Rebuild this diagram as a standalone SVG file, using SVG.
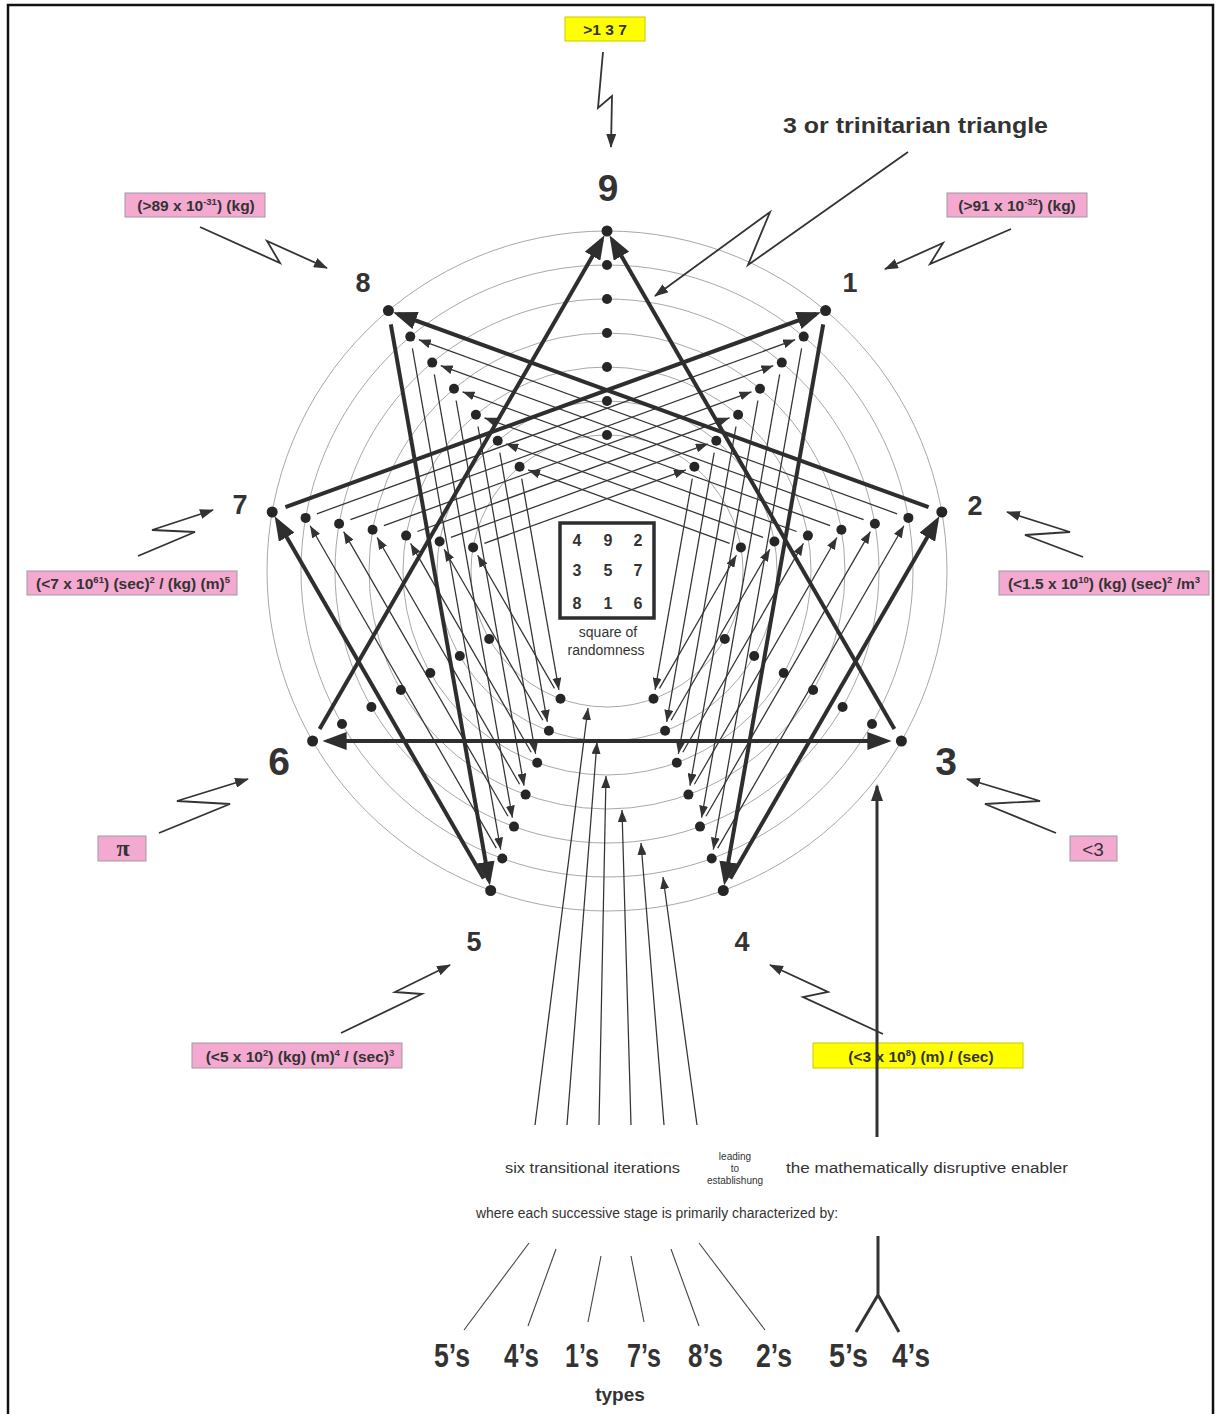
<svg xmlns="http://www.w3.org/2000/svg" width="1221" height="1414" viewBox="0 0 1221 1414">
<style>
.bg{fill:#fff}
.frame{fill:none;stroke:#111;stroke-width:2.5}
.ring{fill:none;stroke:#a8a8a8;stroke-width:1}
.dot{fill:#262626}
.thick{stroke:#2e2e2e;stroke-width:4;fill:none}
.thin{stroke:#333;stroke-width:1.25;fill:none;marker-end:url(#ah)}
.zig{stroke:#333;stroke-width:1.8;fill:none;marker-end:url(#ahz)}
.num{font-family:"Liberation Sans",Arial,sans-serif;font-weight:bold;fill:#333;text-anchor:middle}
.pink{fill:#f4a9d0;stroke:#a09aa0;stroke-width:1}
.yel{fill:#ffff00;stroke:#c9c900;stroke-width:1}
.bt{font-family:"Liberation Sans",Arial,sans-serif;font-weight:bold;font-size:15.5px;fill:#333;text-anchor:middle}
.sq{font-family:"Liberation Sans",Arial,sans-serif;font-size:16px;font-weight:bold;fill:#333;text-anchor:middle}
.cap{font-family:"Liberation Sans",Arial,sans-serif;font-size:14px;fill:#333;text-anchor:middle}
.txt{font-family:"Liberation Sans",Arial,sans-serif;font-size:15.5px;fill:#333}
.small{font-family:"Liberation Sans",Arial,sans-serif;font-size:10px;fill:#333;text-anchor:middle}
.type{font-family:"Liberation Sans",Arial,sans-serif;font-weight:bold;font-size:33px;fill:#333}
.ln{stroke:#444;stroke-width:1.1;fill:none}
</style>
<defs>
<marker id="ahb" markerUnits="userSpaceOnUse" viewBox="0 0 24 18" markerWidth="24" markerHeight="18" refX="19" refY="9" orient="auto-start-reverse"><path d="M0,0 L24,9 L0,18 z" fill="#2e2e2e"/></marker>
<marker id="ah" markerUnits="userSpaceOnUse" viewBox="0 0 12 9" markerWidth="12" markerHeight="9" refX="12" refY="4.5" orient="auto"><path d="M0,0 L12,4.5 L0,9 z" fill="#333"/></marker>
<marker id="ahz" markerUnits="userSpaceOnUse" viewBox="0 0 14 10" markerWidth="14" markerHeight="10" refX="13" refY="5" orient="auto"><path d="M0,0 L14,5 L0,10 z" fill="#333"/></marker>
<marker id="ahv" markerUnits="userSpaceOnUse" viewBox="0 0 17 12" markerWidth="17" markerHeight="12" refX="15" refY="6" orient="auto"><path d="M0,0 L17,6 L0,12 z" fill="#333"/></marker>
</defs>
<rect class="bg" x="0" y="0" width="1221" height="1414"/>
<rect class="frame" x="8" y="5" width="1205" height="1420"/>

<g id="rings">
<circle class="ring" cx="607" cy="571" r="340"/>
<circle class="ring" cx="607" cy="571" r="306"/>
<circle class="ring" cx="607" cy="571" r="272"/>
<circle class="ring" cx="607" cy="571" r="238"/>
<circle class="ring" cx="607" cy="571" r="204"/>
<circle class="ring" cx="607" cy="571" r="170"/>
<circle class="ring" cx="607" cy="571" r="136"/>
</g>

<g id="connectors">
<line class="thin" x1="801.6" y1="348.4" x2="713.3" y2="849.6"/>
<line class="thin" x1="779.7" y1="374.4" x2="701.6" y2="817.7"/>
<line class="thin" x1="757.9" y1="400.5" x2="690.0" y2="785.7"/>
<line class="thin" x1="736.0" y1="426.5" x2="678.4" y2="753.8"/>
<line class="thin" x1="714.2" y1="452.6" x2="666.7" y2="721.8"/>
<line class="thin" x1="692.3" y1="478.6" x2="655.1" y2="689.9"/>
<line class="thin" x1="717.7" y1="848.1" x2="903.9" y2="525.7"/>
<line class="thin" x1="706.0" y1="816.2" x2="870.4" y2="531.6"/>
<line class="thin" x1="694.4" y1="784.2" x2="836.9" y2="537.5"/>
<line class="thin" x1="682.8" y1="752.3" x2="803.4" y2="543.4"/>
<line class="thin" x1="671.1" y1="720.3" x2="769.9" y2="549.3"/>
<line class="thin" x1="659.5" y1="688.4" x2="736.4" y2="555.2"/>
<line class="thin" x1="897.1" y1="513.8" x2="418.8" y2="339.7"/>
<line class="thin" x1="863.6" y1="519.7" x2="440.7" y2="365.7"/>
<line class="thin" x1="830.1" y1="525.6" x2="462.5" y2="391.8"/>
<line class="thin" x1="796.6" y1="531.5" x2="484.4" y2="417.8"/>
<line class="thin" x1="763.1" y1="537.4" x2="506.2" y2="443.9"/>
<line class="thin" x1="729.6" y1="543.3" x2="528.1" y2="469.9"/>
<line class="thin" x1="412.4" y1="348.4" x2="500.7" y2="849.6"/>
<line class="thin" x1="434.3" y1="374.4" x2="512.4" y2="817.7"/>
<line class="thin" x1="456.1" y1="400.5" x2="524.0" y2="785.7"/>
<line class="thin" x1="478.0" y1="426.5" x2="535.6" y2="753.8"/>
<line class="thin" x1="499.8" y1="452.6" x2="547.3" y2="721.8"/>
<line class="thin" x1="521.7" y1="478.6" x2="558.9" y2="689.9"/>
<line class="thin" x1="496.3" y1="848.1" x2="310.1" y2="525.7"/>
<line class="thin" x1="508.0" y1="816.2" x2="343.6" y2="531.6"/>
<line class="thin" x1="519.6" y1="784.2" x2="377.1" y2="537.5"/>
<line class="thin" x1="531.2" y1="752.3" x2="410.6" y2="543.4"/>
<line class="thin" x1="542.9" y1="720.3" x2="444.1" y2="549.3"/>
<line class="thin" x1="554.5" y1="688.4" x2="477.6" y2="555.2"/>
<line class="thin" x1="316.9" y1="513.8" x2="795.2" y2="339.7"/>
<line class="thin" x1="350.4" y1="519.7" x2="773.3" y2="365.7"/>
<line class="thin" x1="383.9" y1="525.6" x2="751.5" y2="391.8"/>
<line class="thin" x1="417.4" y1="531.5" x2="729.6" y2="417.8"/>
<line class="thin" x1="450.9" y1="537.4" x2="707.8" y2="443.9"/>
<line class="thin" x1="484.4" y1="543.3" x2="685.9" y2="469.9"/>
<line class="thick" x1="285.4" y1="507.2" x2="816.2" y2="314.0" marker-end="url(#ahb)"/>
<line class="thick" x1="928.6" y1="507.2" x2="397.8" y2="314.0" marker-end="url(#ahb)"/>
<line class="thick" x1="390.8" y1="324.4" x2="489.0" y2="880.7" marker-end="url(#ahb)"/>
<line class="thick" x1="823.2" y1="324.4" x2="725.0" y2="880.7" marker-end="url(#ahb)"/>
<line class="thick" x1="483.7" y1="878.4" x2="277.2" y2="520.7" marker-end="url(#ahb)"/>
<line class="thick" x1="730.3" y1="878.4" x2="936.8" y2="520.7" marker-end="url(#ahb)"/>
<line class="thick" x1="319.6" y1="728.9" x2="602" y2="239.7" marker-end="url(#ahb)"/>
<line class="thick" x1="894.4" y1="728.9" x2="612" y2="239.7" marker-end="url(#ahb)"/>
<line class="thick" x1="327.6" y1="741" x2="886.4" y2="741" marker-start="url(#ahb)" marker-end="url(#ahb)"/>
<line class="thin" x1="535" y1="1125" x2="588" y2="708"/>
<line class="thin" x1="567" y1="1125" x2="597" y2="742"/>
<line class="thin" x1="599" y1="1125" x2="606" y2="776"/>
<line class="thin" x1="631" y1="1125" x2="622" y2="810"/>
<line class="thin" x1="664" y1="1125" x2="641" y2="843"/>
<line class="thin" x1="697" y1="1125" x2="663" y2="877"/>
<path class="zig" d="M603,52 L598,108 L612,96 L611,147"/>
<path class="zig" d="M908,152 L748,265 L770,212 L655,296"/>
<path class="zig" d="M200,227 L280,263 L267,241 L327,268"/>
<path class="zig" d="M1011,229 L930,264 L943,243 L885,269"/>
<path class="zig" d="M138,556 L195,532 L152,530 L213,510"/>
<path class="zig" d="M1083,557 L1025,535 L1070,532 L1007,512"/>
<path class="zig" d="M159,833 L230,804 L177,801 L248,779"/>
<path class="zig" d="M1056,833 L985,804 L1040,801 L967,779"/>
<path class="zig" d="M341,1033 L422,994 L395,992 L450,965"/>
<path class="zig" d="M883,1034 L803,997 L828,992 L770,965"/>
</g>

<g id="inner-points">
<circle class="dot" cx="607" cy="265" r="5"/><circle class="dot" cx="607" cy="299" r="5"/><circle class="dot" cx="607" cy="333" r="5"/><circle class="dot" cx="607" cy="367" r="5"/><circle class="dot" cx="607" cy="401" r="5"/><circle class="dot" cx="607" cy="435" r="5"/>
<circle class="dot" cx="803.7" cy="336.6" r="5"/><circle class="dot" cx="781.8" cy="362.6" r="5"/><circle class="dot" cx="760.0" cy="388.7" r="5"/><circle class="dot" cx="738.1" cy="414.7" r="5"/><circle class="dot" cx="716.3" cy="440.8" r="5"/><circle class="dot" cx="694.4" cy="466.8" r="5"/>
<circle class="dot" cx="908.4" cy="517.9" r="5"/><circle class="dot" cx="874.9" cy="523.8" r="5"/><circle class="dot" cx="841.4" cy="529.7" r="5"/><circle class="dot" cx="807.9" cy="535.6" r="5"/><circle class="dot" cx="774.4" cy="541.5" r="5"/><circle class="dot" cx="740.9" cy="547.4" r="5"/>
<circle class="dot" cx="872.0" cy="724" r="5"/><circle class="dot" cx="842.6" cy="707" r="5"/><circle class="dot" cx="813.1" cy="690" r="5"/><circle class="dot" cx="783.7" cy="673" r="5"/><circle class="dot" cx="754.2" cy="656" r="5"/><circle class="dot" cx="724.8" cy="639" r="5"/>
<circle class="dot" cx="711.7" cy="858.5" r="5"/><circle class="dot" cx="700.0" cy="826.6" r="5"/><circle class="dot" cx="688.4" cy="794.6" r="5"/><circle class="dot" cx="676.8" cy="762.7" r="5"/><circle class="dot" cx="665.1" cy="730.7" r="5"/><circle class="dot" cx="653.5" cy="698.8" r="5"/>
<circle class="dot" cx="502.3" cy="858.5" r="5"/><circle class="dot" cx="514.0" cy="826.6" r="5"/><circle class="dot" cx="525.6" cy="794.6" r="5"/><circle class="dot" cx="537.2" cy="762.7" r="5"/><circle class="dot" cx="548.9" cy="730.7" r="5"/><circle class="dot" cx="560.5" cy="698.8" r="5"/>
<circle class="dot" cx="342.0" cy="724" r="5"/><circle class="dot" cx="371.4" cy="707" r="5"/><circle class="dot" cx="400.9" cy="690" r="5"/><circle class="dot" cx="430.3" cy="673" r="5"/><circle class="dot" cx="459.8" cy="656" r="5"/><circle class="dot" cx="489.2" cy="639" r="5"/>
<circle class="dot" cx="305.6" cy="517.9" r="5"/><circle class="dot" cx="339.1" cy="523.8" r="5"/><circle class="dot" cx="372.6" cy="529.7" r="5"/><circle class="dot" cx="406.1" cy="535.6" r="5"/><circle class="dot" cx="439.6" cy="541.5" r="5"/><circle class="dot" cx="473.1" cy="547.4" r="5"/>
<circle class="dot" cx="410.3" cy="336.6" r="5"/><circle class="dot" cx="432.2" cy="362.6" r="5"/><circle class="dot" cx="454.0" cy="388.7" r="5"/><circle class="dot" cx="475.9" cy="414.7" r="5"/><circle class="dot" cx="497.7" cy="440.8" r="5"/><circle class="dot" cx="519.6" cy="466.8" r="5"/>
</g>

<g id="node-9"><circle class="dot" cx="607" cy="231" r="5.5"/><text class="num" x="608" y="201" font-size="37">9</text></g>
<g id="node-1"><circle class="dot" cx="825.6" cy="310.6" r="5.5"/><text class="num" x="850" y="292" font-size="27">1</text></g>
<g id="node-2"><circle class="dot" cx="941.8" cy="512" r="5.5"/><text class="num" x="975" y="515" font-size="27">2</text></g>
<g id="node-3"><circle class="dot" cx="901.4" cy="741" r="5.5"/><text class="num" x="946" y="775" font-size="39">3</text></g>
<g id="node-4"><circle class="dot" cx="723.3" cy="890.5" r="5.5"/><text class="num" x="742" y="951" font-size="27">4</text></g>
<g id="node-5"><circle class="dot" cx="490.7" cy="890.5" r="5.5"/><text class="num" x="474" y="951" font-size="27">5</text></g>
<g id="node-6"><circle class="dot" cx="312.6" cy="741" r="5.5"/><text class="num" x="279" y="775" font-size="39">6</text></g>
<g id="node-7"><circle class="dot" cx="272.2" cy="512" r="5.5"/><text class="num" x="240" y="514" font-size="27">7</text></g>
<g id="node-8"><circle class="dot" cx="388.4" cy="310.6" r="5.5"/><text class="num" x="363" y="292" font-size="27">8</text></g>

<g id="square">
<rect x="560" y="523" width="94" height="95" fill="#fff" stroke="#2e2e2e" stroke-width="3.5"/>
<text class="sq" x="577" y="546">4</text><text class="sq" x="608" y="546">9</text><text class="sq" x="638" y="546">2</text>
<text class="sq" x="577" y="576">3</text><text class="sq" x="608" y="576">5</text><text class="sq" x="638" y="576">7</text>
<text class="sq" x="577" y="609">8</text><text class="sq" x="608" y="609">1</text><text class="sq" x="638" y="609">6</text>
<text class="cap" x="608" y="637">square of</text>
<text class="cap" x="606" y="655">randomness</text>
</g>

<g id="label-137"><rect class="yel" x="565" y="17" width="80" height="24"/><text class="bt" x="605" y="35">&gt;1 3 7</text></g>
<g id="label-triangle"><text x="783" y="133" font-family="Liberation Sans, Arial, sans-serif" font-size="22" font-weight="bold" fill="#333" textLength="265" lengthAdjust="spacingAndGlyphs">3 or trinitarian triangle</text></g>
<g id="label-8"><rect class="pink" x="125" y="193" width="140" height="24"/><text class="bt" x="196" y="211">(&gt;89 x 10<tspan font-size="9.5" dy="-6">-31</tspan><tspan dy="6">) (kg)</tspan></text></g>
<g id="label-1"><rect class="pink" x="947" y="193" width="140" height="24"/><text class="bt" x="1017" y="211">(&gt;91 x 10<tspan font-size="9.5" dy="-6">-32</tspan><tspan dy="6">) (kg)</tspan></text></g>
<g id="label-7"><rect class="pink" x="27" y="571" width="210" height="24"/><text class="bt" x="133" y="589">(&lt;7 x 10<tspan font-size="9.5" dy="-6">61</tspan><tspan dy="6">) (sec)</tspan><tspan font-size="9.5" dy="-6">2</tspan><tspan dy="6"> / (kg) (m)</tspan><tspan font-size="9.5" dy="-6">5</tspan></text></g>
<g id="label-2"><rect class="pink" x="999" y="571" width="210" height="24"/><text class="bt" x="1104" y="589">(&lt;1.5 x 10<tspan font-size="9.5" dy="-6">10</tspan><tspan dy="6">) (kg) (sec)</tspan><tspan font-size="9.5" dy="-6">2</tspan><tspan dy="6"> /m</tspan><tspan font-size="9.5" dy="-6">3</tspan></text></g>
<g id="label-6"><rect class="pink" x="98" y="836" width="48" height="25"/><text x="123" y="856" font-family="Liberation Serif, Times New Roman, serif" font-size="24" font-weight="bold" fill="#333" text-anchor="middle">π</text></g>
<g id="label-3"><rect class="pink" x="1070" y="836" width="47" height="25"/><text x="1093" y="856" font-family="Liberation Sans, Arial, sans-serif" font-size="19" fill="#333" text-anchor="middle">&lt;3</text></g>
<g id="label-5"><rect class="pink" x="192" y="1043" width="210" height="25"/><text class="bt" x="300" y="1062">(&lt;5 x 10<tspan font-size="9.5" dy="-6">2</tspan><tspan dy="6">) (kg) (m)</tspan><tspan font-size="9.5" dy="-6">4</tspan><tspan dy="6"> / (sec)</tspan><tspan font-size="9.5" dy="-6">3</tspan></text></g>
<g id="label-4"><rect class="yel" x="813" y="1043" width="210" height="25"/><text class="bt" x="921" y="1062">(&lt;3 x 10<tspan font-size="9.5" dy="-6">8</tspan><tspan dy="6">) (m) / (sec)</tspan></text></g>

<g id="enabler-arrow">
<line x1="877" y1="1137" x2="877" y2="786" stroke="#333" stroke-width="3" marker-end="url(#ahv)"/>
</g>

<g id="bottom-text">
<text class="txt" x="505" y="1173" textLength="175" lengthAdjust="spacingAndGlyphs">six transitional iterations</text>
<text class="small" x="735" y="1160">leading</text>
<text class="small" x="735" y="1172">to</text>
<text class="small" x="735" y="1184">establishung</text>
<text class="txt" x="786" y="1173" textLength="282" lengthAdjust="spacingAndGlyphs">the mathematically disruptive enabler</text>
<text class="txt" x="476" y="1218" textLength="362" lengthAdjust="spacingAndGlyphs">where each successive stage is primarily characterized by:</text>
</g>

<g id="type-lines">
<line class="ln" x1="529" y1="1243" x2="464" y2="1330"/>
<line class="ln" x1="556" y1="1249" x2="528" y2="1326"/>
<line class="ln" x1="601" y1="1256" x2="588" y2="1322"/>
<line class="ln" x1="631" y1="1256" x2="644" y2="1322"/>
<line class="ln" x1="671" y1="1249" x2="699" y2="1326"/>
<line class="ln" x1="699" y1="1243" x2="765" y2="1330"/>
<path d="M878,1236 L878,1295 M856,1332 L878,1295 L899,1332" stroke="#333" stroke-width="3" fill="none"/>
</g>

<g id="types">
<text class="type" x="434" y="1367" textLength="36" lengthAdjust="spacingAndGlyphs">5’s</text>
<text class="type" x="504" y="1367" textLength="35" lengthAdjust="spacingAndGlyphs">4’s</text>
<text class="type" x="565" y="1367" textLength="34" lengthAdjust="spacingAndGlyphs">1’s</text>
<text class="type" x="627" y="1367" textLength="34" lengthAdjust="spacingAndGlyphs">7’s</text>
<text class="type" x="688" y="1367" textLength="35" lengthAdjust="spacingAndGlyphs">8’s</text>
<text class="type" x="756" y="1367" textLength="36" lengthAdjust="spacingAndGlyphs">2’s</text>
<text class="type" x="829" y="1367" textLength="39" lengthAdjust="spacingAndGlyphs">5’s</text>
<text class="type" x="892" y="1367" textLength="38" lengthAdjust="spacingAndGlyphs">4’s</text>
<text x="620" y="1401" font-family="Liberation Sans, Arial, sans-serif" font-size="19" font-weight="bold" fill="#333" text-anchor="middle">types</text>
</g>
</svg>
